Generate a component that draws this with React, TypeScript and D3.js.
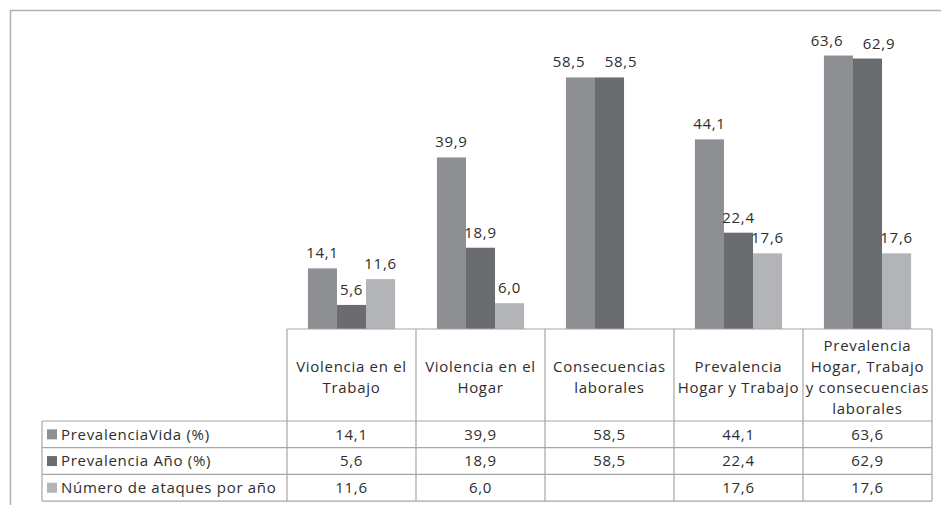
import React from "react";
import * as d3 from "d3";

const categories = [
  "Violencia en el\nTrabajo",
  "Violencia en el\nHogar",
  "Consecuencias\nlaborales",
  "Prevalencia\nHogar y Trabajo",
  "Prevalencia\nHogar, Trabajo\ny consecuencias\nlaborales",
];
const seriesNames = ["PrevalenciaVida (%)", "Prevalencia Año (%)", "Número de ataques por año"];
const prevalenciaVida: (number | null)[] = [14.1, 39.9, 58.5, 44.1, 63.6];
const prevalenciaAnio: (number | null)[] = [5.6, 18.9, 58.5, 22.4, 62.9];
const numeroAtaques: (number | null)[] = [11.6, 6.0, null, 17.6, 17.6];
const seriesColors = ["#8e8f93", "#6b6c70", "#b3b4b8"];

const W = 941;
const H = 505;
const FONT = "'Open Sans', 'DejaVu Sans', sans-serif";
const TEXT = "#2e2e2e";
const BORDER = "#a6a6a6";
const FS = 15;
const LS = 0.7;

export default function App() {
  const seriesData = [prevalenciaVida, prevalenciaAnio, numeroAtaques];
  const plotLeft = 287;
  const plotRight = 932;
  const baseline = 329;
  const tableLeft = 42;
  const headerBottom = 421;
  const rowH = 26.7;

  const x = d3.scaleBand<string>().domain(categories).range([plotLeft, plotRight]).padding(0);
  const xi = d3
    .scaleBand<string>()
    .domain(seriesNames)
    .range([0, x.bandwidth()])
    .paddingInner(0)
    .paddingOuter(0.72);
  const y = d3.scaleLinear().domain([0, 70]).range([baseline, 28]);
  const fmt = (v: number) => d3.format(".1f")(v).replace(".", ",");

  const colEdges = categories.map((c) => x(c)!).concat([plotRight]);
  const rowLines = seriesNames.map((_, i) => headerBottom + rowH * (i + 1));

  // data label positions with simple collision avoidance within a category
  const labels: { key: string; x: number; y: number; text: string }[] = [];
  categories.forEach((c, ci) => {
    const group: { key: string; x: number; y: number; text: string }[] = [];
    seriesData.forEach((vals, si) => {
      const v = vals[ci];
      if (v == null) return;
      group.push({
        key: `l${si}-${ci}`,
        x: x(c)! + xi(seriesNames[si])! + xi.bandwidth() / 2,
        y: y(v) - 10,
        text: fmt(v),
      });
    });
    for (let i = 1; i < group.length; i++) {
      const a = group[i - 1];
      const b = group[i];
      const minD = 52;
      if (Math.abs(a.y - b.y) < 15 && b.x - a.x < minD) {
        const mid = (a.x + b.x) / 2;
        a.x = mid - minD / 2;
        b.x = mid + minD / 2;
      }
    }
    labels.push(...group);
  });

  return (
    <svg
      width={W}
      height={H}
      style={{ position: "absolute", left: 0, top: 0, background: "#fff" }}
      fontFamily={FONT}
    >
      <rect x={0} y={0} width={W} height={H} fill="#fff" />
      {/* outer chart border */}
      <rect x={10.5} y={10.5} width={W + 20} height={H + 20} fill="none" stroke="#b0b0b0" strokeWidth={1.5} />

      {/* bars */}
      {seriesData.map((vals, si) =>
        categories.map((c, ci) => {
          const v = vals[ci];
          if (v == null) return null;
          const bx = x(c)! + xi(seriesNames[si])!;
          const bw = xi.bandwidth();
          return (
            <rect
              key={`b${si}-${ci}`}
              x={bx}
              y={y(v)}
              width={bw}
              height={baseline - y(v)}
              fill={seriesColors[si]}
            />
          );
        })
      )}

      {/* data labels */}
      {labels.map((l) => (
        <text key={l.key} x={l.x} y={l.y} textAnchor="middle" fontSize={FS} letterSpacing={LS} fill={TEXT}>
          {l.text}
        </text>
      ))}

      {/* table lines */}
      <g stroke={BORDER} strokeWidth={1.2} fill="none">
        <line x1={plotLeft} x2={plotRight} y1={baseline} y2={baseline} />
        <line x1={tableLeft} x2={plotRight} y1={headerBottom} y2={headerBottom} />
        {rowLines.map((ry, i) => (
          <line key={`r${i}`} x1={tableLeft} x2={plotRight} y1={ry} y2={ry} />
        ))}
        {colEdges.map((cx, i) => (
          <line key={`c${i}`} x1={cx} x2={cx} y1={baseline} y2={rowLines[rowLines.length - 1]} />
        ))}
        <line x1={tableLeft} x2={tableLeft} y1={headerBottom} y2={rowLines[rowLines.length - 1]} />
      </g>

      {/* header labels */}
      {categories.map((c) => {
        const lines = c.split("\n");
        const lh = 21;
        const cy = (baseline + headerBottom) / 2 + 2;
        const start = cy - ((lines.length - 1) * lh) / 2;
        return (
          <text key={`h${c}`} textAnchor="middle" fontSize={FS} letterSpacing={LS} fill={TEXT}>
            {lines.map((l, li) => (
              <tspan key={li} x={x(c)! + x.bandwidth() / 2} y={start + li * lh} dy="0.35em">
                {l}
              </tspan>
            ))}
          </text>
        );
      })}

      {/* table rows */}
      {seriesNames.map((s, si) => {
        const cy = headerBottom + rowH * si + rowH / 2;
        return (
          <g key={`row${si}`}>
            <rect x={tableLeft + 5} y={cy - 5} width={10} height={10} fill={seriesColors[si]} />
            <text x={tableLeft + 19} y={cy} dy="0.35em" fontSize={FS} letterSpacing={LS} fill={TEXT}>
              {s}
            </text>
            {categories.map((c, ci) => {
              const v = seriesData[si][ci];
              if (v == null) return null;
              return (
                <text
                  key={`t${ci}`}
                  x={x(c)! + x.bandwidth() / 2}
                  y={cy}
                  dy="0.35em"
                  textAnchor="middle"
                  fontSize={FS}
                  letterSpacing={LS}
                  fill={TEXT}
                >
                  {fmt(v)}
                </text>
              );
            })}
          </g>
        );
      })}
    </svg>
  );
}
